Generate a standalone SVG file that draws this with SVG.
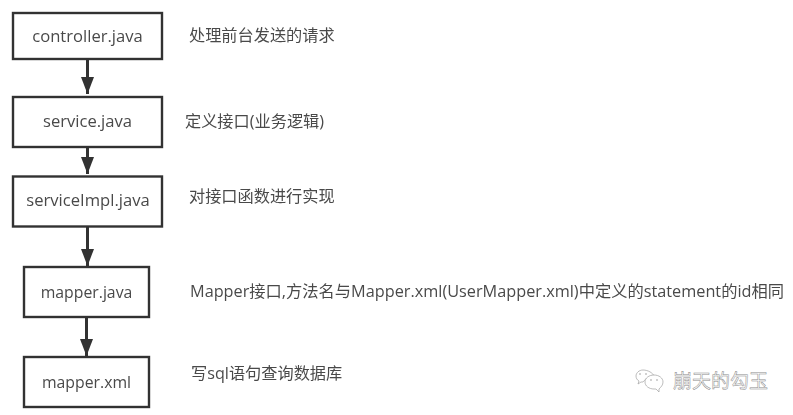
<svg xmlns="http://www.w3.org/2000/svg" width="793" height="415" viewBox="0 0 793 415">
<style>
.box{fill:#fff;stroke:#333;stroke-width:2.4}
.t{font-family:"Open Sans","Noto Sans CJK SC",sans-serif;font-size:16.6px;fill:#4a4a4a}
.l{font-size:16.2px}
.s{font-size:15.8px}
.m{text-anchor:middle}
.c{stroke:#333;stroke-width:3;fill:none;marker-end:url(#a)}
.wm{font-family:"Noto Sans CJK SC",sans-serif;font-size:19px;fill:#fff;stroke:#8a8a8a;stroke-width:.5}
.ic{fill:#fff;stroke:#a0a0a0;stroke-width:.7}
.d{fill:#999}
</style>
<defs>
<marker id="a" markerUnits="userSpaceOnUse" markerWidth="18" markerHeight="14" refX="17" refY="7" orient="auto" viewBox="0 0 18 14"><path d="M0 0.500L17 7L0 13.500Z" fill="#333"/></marker>
<filter id="b" x="-2%" y="-2%" width="104%" height="104%"><feGaussianBlur stdDeviation="0.35"/></filter>
</defs>
<rect width="793" height="415" fill="#fff"/>
<g filter="url(#b)">
<g id="connectors">
<line class="c" x1="87.500" y1="59" x2="87.500" y2="94"/>
<line class="c" x1="87.500" y1="147" x2="87.500" y2="174"/>
<line class="c" x1="87.500" y1="227" x2="87.500" y2="266"/>
<line class="c" x1="86.500" y1="317" x2="86.500" y2="356"/>
</g>
<g id="n-controller"><rect class="box" x="13" y="13" width="149" height="46"/><text class="t m" x="87.500" y="41.500">controller.java</text></g>
<g id="n-service"><rect class="box" x="13" y="97" width="149" height="50"/><text class="t m" x="87.500" y="127">service.java</text></g>
<g id="n-serviceimpl"><rect class="box" x="13" y="176.500" width="149" height="50"/><text class="t m" x="88" y="206">serviceImpl.java</text></g>
<g id="n-mapper-java"><rect class="box" x="24" y="267" width="125" height="50"/><text class="t m s" x="86.500" y="298">mapper.java</text></g>
<g id="n-mapper-xml"><rect class="box" x="24" y="357" width="125" height="50"/><text class="t m s" x="86.500" y="388">mapper.xml</text></g>
<g id="labels">
<text class="t l" x="189" y="41">处理前台发送的请求</text>
<text class="t l" x="185" y="127">定义接口(业务逻辑)</text>
<text class="t l" x="189" y="202">对接口函数进行实现</text>
<text class="t l" x="190" y="297" textLength="594" lengthAdjust="spacingAndGlyphs">Mapper接口,方法名与Mapper.xml(UserMapper.xml)中定义的statement的id相同</text>
<text class="t l" x="191" y="379">写sql语句查询数据库</text>
</g>
</g>
<g id="watermark">
<path class="ic" d="M643 370c-4 0-7 3-7 6 0 2 1 4 3 5l-1 3 3-2h2c3-4 7-6 11-6-1-3-6-6-11-6z"/>
<path class="ic" d="M654 375c-5 0-9 3-9 7s4 7 9 7h2l3 3v-3c2-2 4-4 4-7 0-4-4-7-9-7z"/>
<circle class="d" cx="640" cy="374" r=".8"/><circle class="d" cx="646" cy="374" r=".8"/>
<circle class="d" cx="651" cy="380" r=".8"/><circle class="d" cx="657" cy="380" r=".8"/>
<text class="wm" x="673" y="388">崩天的勾玉</text>
</g>
</svg>
